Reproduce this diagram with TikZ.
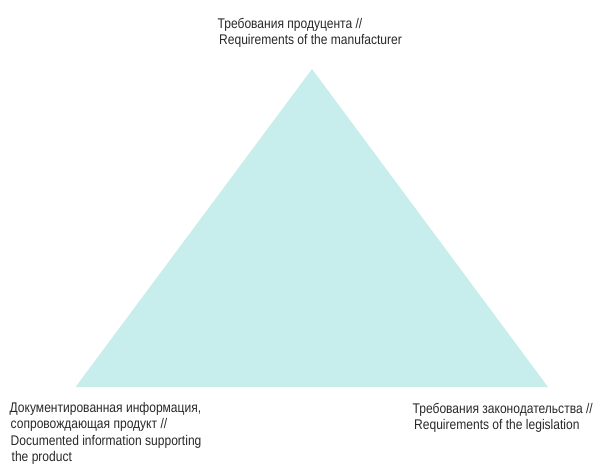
\documentclass[tikz,border=0pt]{standalone}
\usepackage{fontspec}
\setmainfont[FakeStretch=0.86]{Liberation Sans}
\definecolor{tri}{RGB}{199,238,236}
\definecolor{txt}{RGB}{40,40,40}
\begin{document}
\begin{tikzpicture}[x=1pt,y=-1pt,
  lbl/.style={anchor=base west,inner sep=0pt,text=txt,font=\fontsize{14}{16}\selectfont}]
\useasboundingbox (0,0) rectangle (602,470);
\coordinate (A) at (312,69);
\coordinate (B) at (75.5,387);
\coordinate (C) at (548,387);
\fill[tri] (A) -- (B) -- (C) -- cycle;
\node[lbl] (t1) at (217.5,28.5) {Требования продуцента //};
\node[lbl] (t2) at (219,44.5) {Requirements of the manufacturer};
\node[lbl] (l1) at (9.5,412) {Документированная информация,};
\node[lbl] (l2) at (10.5,428.5) {сопровождающая продукт //};
\node[lbl] (l3) at (10.5,445) {Documented information supporting};
\node[lbl] (l4) at (11.5,461) {the product};
\node[lbl] (r1) at (412.5,413) {Требования законодательства //};
\node[lbl] (r2) at (414,429.5) {Requirements of the legislation};
\end{tikzpicture}
\end{document}
